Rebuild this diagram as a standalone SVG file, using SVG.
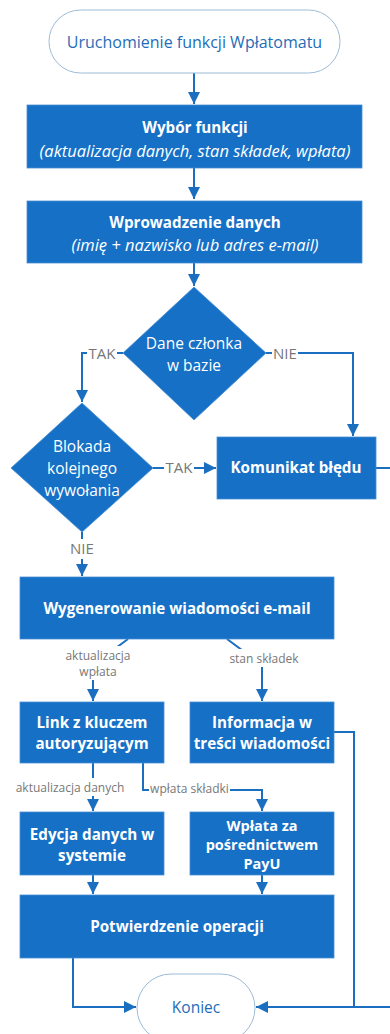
<svg xmlns="http://www.w3.org/2000/svg" width="390" height="1034" viewBox="0 0 390 1034">
<defs>
<marker id="ah" markerUnits="userSpaceOnUse" markerWidth="12" markerHeight="12" refX="10" refY="5" orient="auto" viewBox="0 0 10 10">
<path d="M0,0 L10,5 L0,10 z" fill="#1a6fc0"/>
</marker>
<style>
.box{fill:#1570c6;stroke:#4a8fd4;stroke-width:0.8}
.term{fill:#fff;stroke:#9dbbd9;stroke-width:1}
.tt{font-family:"Open Sans",sans-serif;font-size:16px;fill:#1f6db8;text-anchor:middle;dominant-baseline:central}
.bt{font-family:"Open Sans",sans-serif;font-size:15.2px;font-weight:bold;fill:#fff;text-anchor:middle;dominant-baseline:central}
.it{font-family:"Open Sans",sans-serif;font-size:16.5px;font-style:italic;fill:#fff;text-anchor:middle;dominant-baseline:central}
.dt{font-family:"Open Sans",sans-serif;font-size:15.5px;fill:#fff;text-anchor:middle;dominant-baseline:central}
.lbl{font-family:"Open Sans",sans-serif;font-size:12px;fill:#777;text-anchor:middle;dominant-baseline:central}
.yl{font-size:15px}
.ln{fill:none;stroke:#1a6fc0;stroke-width:2}
.bg{fill:#fff}
</style>
</defs>
<g id="connectors">
<path class="ln" d="M194,73 V104" marker-end="url(#ah)"/>
<path class="ln" d="M194,168 V199" marker-end="url(#ah)"/>
<path class="ln" d="M194,263 V286" marker-end="url(#ah)"/>
<path class="ln" d="M123,353 H82 V402" marker-end="url(#ah)"/>
<rect class="bg" x="87" y="344" width="30" height="18"/>
<text class="lbl yl" x="102" y="353">TAK</text>
<path class="ln" d="M266,353 H353 V436" marker-end="url(#ah)"/>
<rect class="bg" x="272" y="344" width="26" height="18"/>
<text class="lbl yl" x="285" y="353">NIE</text>
<path class="ln" d="M153,468 H216" marker-end="url(#ah)"/>
<rect class="bg" x="164" y="459" width="30" height="18"/>
<text class="lbl yl" x="179" y="467">TAK</text>
<path class="ln" d="M82,532 V576" marker-end="url(#ah)"/>
<rect class="bg" x="68" y="539" width="28" height="20"/>
<text class="lbl yl" x="82" y="548">NIE</text>
<path class="ln" d="M128,639 L93,665 V701" marker-end="url(#ah)"/>
<rect class="bg" x="64" y="646" width="68" height="34"/>
<text class="lbl" x="98" y="655">aktualizacja</text>
<text class="lbl" x="98" y="671">wpłata</text>
<path class="ln" d="M227,639 L262,665 V701" marker-end="url(#ah)"/>
<rect class="bg" x="229" y="649" width="70" height="18"/>
<text class="lbl" x="264" y="658">stan składek</text>
<path class="ln" d="M334,732 H354 V1007"/>
<path class="ln" d="M376,468 H392"/>
<path class="ln" d="M392,1007 H256" marker-end="url(#ah)"/>
<path class="ln" d="M93,763 V811" marker-end="url(#ah)"/>
<rect class="bg" x="15" y="778" width="110" height="18"/>
<text class="lbl" x="70" y="787">aktualizacja danych</text>
<path class="ln" d="M143,763 V790 H262 V811" marker-end="url(#ah)"/>
<rect class="bg" x="149" y="780" width="81" height="18"/>
<text class="lbl" x="189.5" y="788">wpłata składki</text>
<path class="ln" d="M93,875 V894" marker-end="url(#ah)"/>
<path class="ln" d="M262,875 V894" marker-end="url(#ah)"/>
<path class="ln" d="M73,958 V1007 H136" marker-end="url(#ah)"/>
</g>
<g id="start">
<rect class="term" x="49" y="10" width="291" height="63" rx="31.5"/>
<text class="tt" x="194.5" y="42">Uruchomienie funkcji Wpłatomatu</text>
</g>
<g id="wybor">
<rect class="box" x="27" y="105" width="335" height="63"/>
<text class="bt" x="195" y="127">Wybór funkcji</text>
<text class="it" x="195" y="150">(aktualizacja danych, stan składek, wpłata)</text>
</g>
<g id="wprowadzenie">
<rect class="box" x="27" y="201" width="335" height="62"/>
<text class="bt" x="195" y="222">Wprowadzenie danych</text>
<text class="it" x="195" y="244">(imię + nazwisko lub adres e-mail)</text>
</g>
<g id="dane">
<polygon class="box" points="194,287 266,353 194,420 123,353"/>
<text class="dt" x="194" y="343">Dane członka</text>
<text class="dt" x="194" y="365">w bazie</text>
</g>
<g id="blokada">
<polygon class="box" points="82,403 153,468 82,532 11,468"/>
<text class="dt" x="82" y="446">Blokada</text>
<text class="dt" x="82" y="468">kolejnego</text>
<text class="dt" x="82" y="490">wywołania</text>
</g>
<g id="komunikat">
<rect class="box" x="217" y="437" width="159" height="62"/>
<text class="bt" x="296" y="467">Komunikat błędu</text>
</g>
<g id="wygenerowanie">
<rect class="box" x="20" y="577" width="314" height="62"/>
<text class="bt" x="177" y="608">Wygenerowanie wiadomości e-mail</text>
</g>
<g id="link">
<rect class="box" x="20" y="702" width="144" height="61"/>
<text class="bt" x="92" y="722">Link z kluczem</text>
<text class="bt" x="92" y="743">autoryzującym</text>
</g>
<g id="informacja">
<rect class="box" x="190" y="702" width="144" height="61"/>
<text class="bt" x="262" y="722">Informacja w</text>
<text class="bt" x="262" y="743">treści wiadomości</text>
</g>
<g id="edycja">
<rect class="box" x="20" y="812" width="144" height="63"/>
<text class="bt" x="92" y="834">Edycja danych w</text>
<text class="bt" x="92" y="855">systemie</text>
</g>
<g id="wplata">
<rect class="box" x="190" y="812" width="144" height="63"/>
<text class="bt" x="262" y="825" style="font-size:14.5px">Wpłata za</text>
<text class="bt" x="262" y="844" style="font-size:14.5px">pośrednictwem</text>
<text class="bt" x="262" y="863" style="font-size:14.5px">PayU</text>
</g>
<g id="potwierdzenie">
<rect class="box" x="20" y="895" width="314" height="63"/>
<text class="bt" x="177" y="926">Potwierdzenie operacji</text>
</g>
<g id="koniec">
<rect class="term" x="137" y="974" width="118" height="68" rx="34"/>
<text class="tt" x="196" y="1007" style="font-size:15.5px">Koniec</text>
</g>
</svg>
